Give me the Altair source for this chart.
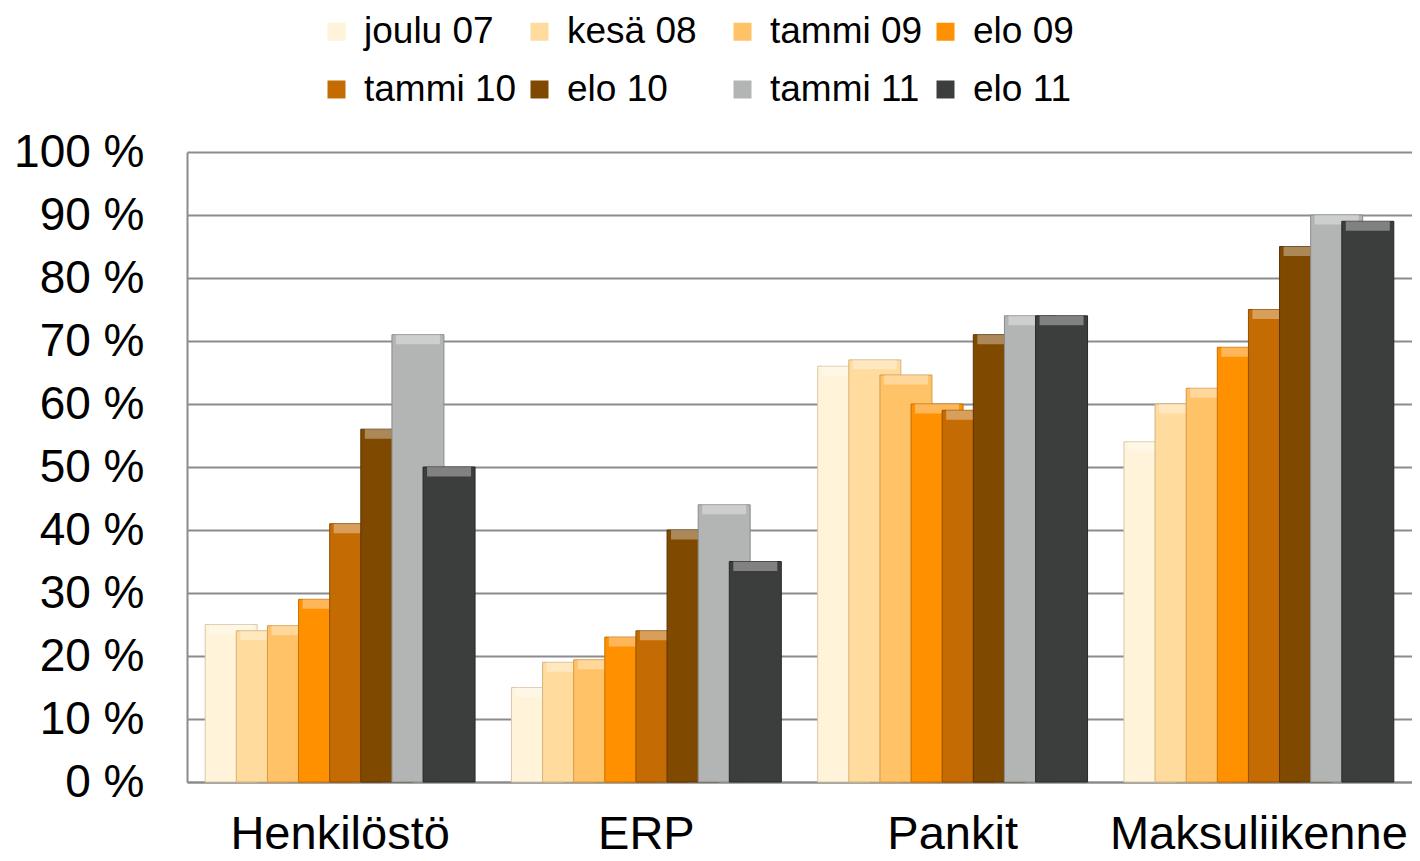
import altair as alt
import pandas as pd

categories = ["Henkilöstö", "ERP", "Pankit", "Maksuliikenne"]
series = ["joulu 07", "kesä 08", "tammi 09", "elo 09",
          "tammi 10", "elo 10", "tammi 11", "elo 11"]
colors = ["#FFF3D9", "#FFDB9E", "#FFC266", "#FF9000",
          "#C46C03", "#804900", "#B3B5B4", "#3C3E3D"]
strokes = ["#D9C8A8", "#D4B47A", "#D49A45", "#C86F00",
           "#8F4F02", "#5A3300", "#8A8C8B", "#262827"]

v_joulu07 = [25, 15, 66, 54]
v_kesa08 = [24, 19, 67, 60]
v_tammi09 = [24.8, 19.4, 64.6, 62.5]
v_elo09 = [29, 23, 60, 69]
v_tammi10 = [41, 24, 59, 75]
v_elo10 = [56, 40, 71, 85]
v_tammi11 = [71, 44, 74, 90]
v_elo11 = [50, 35, 74, 89]
all_values = [v_joulu07, v_kesa08, v_tammi09, v_elo09,
              v_tammi10, v_elo10, v_tammi11, v_elo11]

rows = []
for s, vals in zip(series, all_values):
    for c, v in zip(categories, vals):
        rows.append({"category": c, "series": s, "value": v})
df = pd.DataFrame(rows)

FONT = "Liberation Sans"

x_enc = alt.X(
    "category:N", sort=categories, title=None,
    scale=alt.Scale(domain=categories, paddingInner=0, paddingOuter=0),
    axis=alt.Axis(labelAngle=0, labelFontSize=47, labelFont=FONT, labelColor="black",
                  labelPadding=66, labelBaseline="alphabetic", labelLimit=0,
                  ticks=False, tickSize=0,
                  domainColor="#8C8C8C", domainWidth=2, grid=False),
)
xo_enc = alt.XOffset(
    "series:N", sort=series,
    scale=alt.Scale(domain=series, paddingInner=0, paddingOuter=0.92),
)
y_enc = alt.Y(
    "value:Q", title=None,
    scale=alt.Scale(domain=[0, 100], nice=False),
    axis=alt.Axis(values=list(range(0, 101, 10)), labelExpr="datum.value + ' %'",
                  labelFontSize=46, labelFont=FONT, labelColor="black", labelPadding=43,
                  ticks=False, tickSize=0, grid=True, gridColor="#8C8C8C", gridWidth=2,
                  domainColor="#8C8C8C", domainWidth=2),
)

legend = alt.Legend(
    orient="none", legendX=131, legendY=-139, direction="horizontal", columns=4,
    symbolType="square", symbolSize=324, symbolStrokeWidth=0,
    labelFontSize=37, labelFont=FONT, labelColor="black", labelOffset=9,
    labelLimit=400, columnPadding=4, rowPadding=20, gridAlign="all", padding=0,
)

layers = []
for i, s in enumerate(series):
    base = alt.Chart(df).transform_filter(alt.datum.series == s)
    bar = base.mark_bar(width=52, stroke=strokes[i], strokeWidth=1).encode(
        x=x_enc, xOffset=xo_enc, y=y_enc,
        color=alt.Color("series:N", title=None,
                        scale=alt.Scale(domain=series, range=colors), legend=legend),
    )
    top = base.transform_calculate(top="datum.value - 1.5").mark_bar(
        width=44, color="white", opacity=0.35).encode(
        x=x_enc, xOffset=xo_enc, y=y_enc, y2="top:Q")
    layers += [bar, top]

chart = alt.layer(*layers).properties(
    width=1225, height=630,
    autosize=alt.AutoSizeParams(type="none"),
    padding={"left": 179, "top": 144, "right": 0, "bottom": 78},
).configure_view(strokeWidth=0)

chart.save("out.html", embed_options={"renderer": "svg", "actions": False})
